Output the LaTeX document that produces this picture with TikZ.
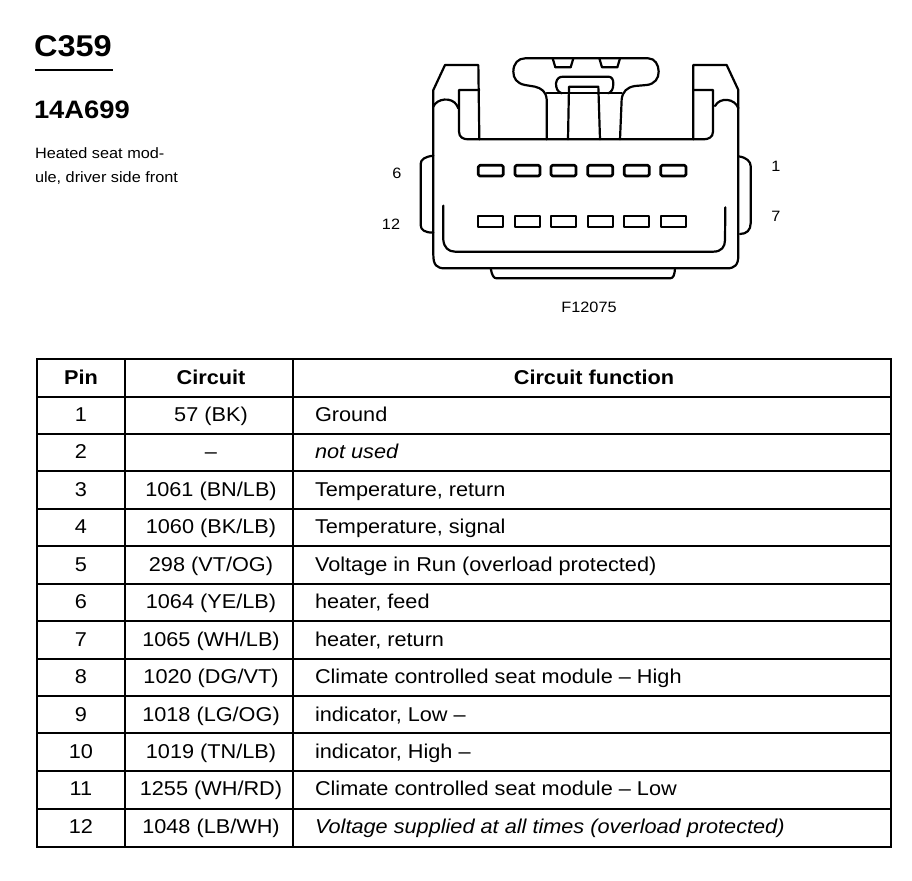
\documentclass[tikz,border=0pt]{standalone}
\usepackage{fontspec}
\setmainfont[FakeStretch=1.085]{Liberation Sans}
\newcommand{\cellfont}{\fontsize{20}{20}\selectfont}
\newcommand{\smallfont}{\fontsize{15}{15}\selectfont}
\newcommand{\tablerow}[5]{%
  \node[txt,anchor=base] (pin#1) at (81,#2) {\cellfont #3};
  \node[txt,anchor=base] (cir#1) at (211,#2) {\cellfont #4};
  \node[txt,anchor=base west] (fun#1) at (315,#2) {\cellfont #5};
}
\tikzset{
  txt/.style={inner sep=0pt,outer sep=0pt,text=black},
  conn/.style={line width=2.2pt,line join=round,line cap=round},
  grid/.style={line width=2.5pt,line cap=rect},
}
\begin{document}
\begin{tikzpicture}[x=1pt,y=-1pt]
\useasboundingbox[fill=white] (0,0) rectangle (912,880);
% heading
\node[txt,anchor=base west] (title) at (34,57) {\fontsize{30}{30}\selectfont\bfseries C359};
\draw[line width=2.2pt] (35,70) -- (113,70);
\node[txt,anchor=base west] (part) at (34,119) {\fontsize{25.2}{26}\selectfont\bfseries 14A699};
\node[txt,anchor=base west] (desc1) at (35,158) {\smallfont Heated seat mod-};
\node[txt,anchor=base west] (desc2) at (35,182) {\smallfont ule, driver side front};
% connector labels
\node[txt,anchor=base] (l6) at (397,178) {\smallfont 6};
\node[txt,anchor=base] (l12) at (391,229) {\smallfont 12};
\node[txt,anchor=base] (l1) at (776,171) {\smallfont 1};
\node[txt,anchor=base] (l7) at (776,221) {\smallfont 7};
\node[txt,anchor=base] (fig) at (589,312) {\smallfont F12075};
% connector
\begin{scope}[shift={(380,40)},x=0.33333pt,y=-0.33333pt,conn]
  % body
  \draw (160,150) -- (160,645) .. controls (160,675) and (170,685) .. (195,685)
        -- (1040,685) .. controls (1065,685) and (1075,675) .. (1075,645)
        -- (1075,150) -- (1040,75) -- (940,75) -- (940,298) -- (298,298) -- (295,75) -- (195,75) -- cycle;
  % latches
  \draw (160,200) .. controls (170,175) and (215,170) .. (230,195) -- (235,205);
  \draw (298,150) -- (237,150) -- (237,275) .. controls (237,292) and (250,298) .. (265,298) -- (298,298);
  \draw (1075,205) .. controls (1065,175) and (1020,170) .. (1005,198);
  \draw (942,150) -- (999,150) -- (999,275) .. controls (999,292) and (985,298) .. (970,298) -- (940,298);
  % top tab
  \draw (500,298) -- (500,178) .. controls (498,155) and (485,145) .. (465,140) -- (435,135)
        .. controls (410,130) and (400,115) .. (400,95) .. controls (400,70) and (415,55) .. (435,55)
        -- (805,55) .. controls (825,55) and (836,75) .. (836,95) .. controls (836,115) and (825,132) .. (800,135)
        -- (765,138) .. controls (740,142) and (728,155) .. (725,178) -- (720,298);
  \draw (518,55) -- (526,82) -- (572,82) -- (580,55);
  \draw (658,55) -- (666,82) -- (712,82) -- (720,55);
  \draw (500,160) -- (725,160);
  \draw (545,160) .. controls (532,155) and (528,145) .. (528,130) .. controls (530,115) and (538,110) .. (550,110)
        -- (685,110) .. controls (695,110) and (700,118) .. (700,130) .. controls (700,148) and (695,155) .. (685,160);
  \draw (564,298) -- (567,140) -- (655,140) -- (660,298);
  % side tabs
  \draw (160,347) .. controls (135,350) and (122,358) .. (122,372) -- (122,555) .. controls (122,570) and (135,578) .. (160,578);
  \draw (1075,349) .. controls (1100,352) and (1112,365) .. (1112,378) -- (1112,550) .. controls (1112,570) and (1100,582) .. (1080,582);
  % inner line
  \draw (190,497) -- (190,600) .. controls (192,622) and (205,635) .. (225,635)
        -- (1000,635) .. controls (1025,635) and (1035,620) .. (1035,600) -- (1036,502);
  % bottom key
  \draw (332,685) .. controls (336,705) and (340,715) .. (350,715) -- (870,715) .. controls (880,715) and (884,705) .. (885,685);
  % contacts
  \foreach \a/\b in {295/370,405/480,513/588,623/698,733/808,842/918}{
    \draw[rounded corners=1.5pt,line width=2.7pt] (\a,376) rectangle (\b,408);
    \draw[line width=2.2pt] (\a,527) rectangle (\b,560);
  }
\end{scope}
% table grid
\draw[grid] (37,359) rectangle (891,847);
\foreach \y in {397,434,471,509,546,584,621,659,696,733,771,809}{
  \draw[grid] (37,\y) -- (891,\y);
}
\draw[grid] (125,359) -- (125,847);
\draw[grid] (293,359) -- (293,847);
% table text
\node[txt,anchor=base] (hpin) at (81,384) {\cellfont\bfseries Pin};
\node[txt,anchor=base] (hcir) at (211,384) {\cellfont\bfseries Circuit};
\node[txt,anchor=base] (hfun) at (594,384) {\cellfont\bfseries Circuit function};
\tablerow{1}{421}{1}{57 (BK)}{Ground}
\tablerow{2}{458}{2}{–}{\itshape not used}
\tablerow{3}{496}{3}{1061 (BN/LB)}{Temperature, return}
\tablerow{4}{533}{4}{1060 (BK/LB)}{Temperature, signal}
\tablerow{5}{571}{5}{298 (VT/OG)}{Voltage in Run (overload protected)}
\tablerow{6}{608}{6}{1064 (YE/LB)}{heater, feed}
\tablerow{7}{646}{7}{1065 (WH/LB)}{heater, return}
\tablerow{8}{683}{8}{1020 (DG/VT)}{Climate controlled seat module – High}
\tablerow{9}{721}{9}{1018 (LG/OG)}{indicator, Low –}
\tablerow{10}{758}{10}{1019 (TN/LB)}{indicator, High –}
\tablerow{11}{795}{11}{1255 (WH/RD)}{Climate controlled seat module – Low}
\tablerow{12}{833}{12}{1048 (LB/WH)}{\itshape Voltage supplied at all times (overload protected)}
\end{tikzpicture}
\end{document}
